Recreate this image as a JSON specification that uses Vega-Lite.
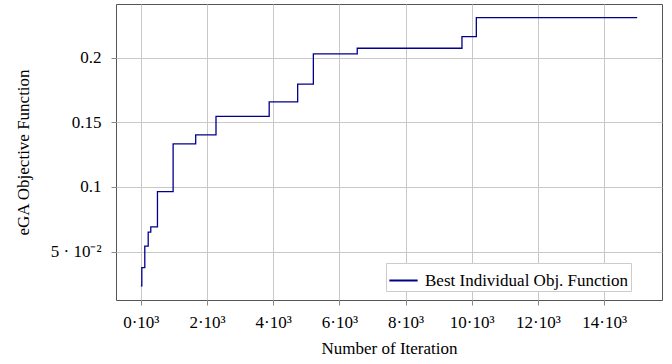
{
  "$schema": "https://vega.github.io/schema/vega-lite/v6.json",
  "width": 546,
  "height": 296,
  "autosize": {"type": "none"},
  "padding": {"left": 116, "top": 4, "right": 10, "bottom": 64},
  "background": "white",
  "config": {
    "font": "Liberation Serif",
    "view": {"stroke": "#555555", "strokeWidth": 1},
    "axis": {
      "labelFont": "Liberation Serif",
      "titleFont": "Liberation Serif",
      "labelFontSize": 17,
      "titleFontSize": 17,
      "titleFontWeight": "normal",
      "labelColor": "#000000",
      "titleColor": "#000000",
      "gridColor": "#c8c8c8",
      "gridWidth": 1,
      "tickColor": "#888888",
      "tickSize": 5,
      "domain": false
    }
  },
  "data": {
    "values": [
      {"iter": 0, "value": 0.0235, "series": "Best Individual Obj. Function"},
      {"iter": 30, "value": 0.0377, "series": "Best Individual Obj. Function"},
      {"iter": 120, "value": 0.0543, "series": "Best Individual Obj. Function"},
      {"iter": 223, "value": 0.0651, "series": "Best Individual Obj. Function"},
      {"iter": 301, "value": 0.0692, "series": "Best Individual Obj. Function"},
      {"iter": 503, "value": 0.0964, "series": "Best Individual Obj. Function"},
      {"iter": 976, "value": 0.1333, "series": "Best Individual Obj. Function"},
      {"iter": 1658, "value": 0.1402, "series": "Best Individual Obj. Function"},
      {"iter": 2272, "value": 0.1546, "series": "Best Individual Obj. Function"},
      {"iter": 3879, "value": 0.1658, "series": "Best Individual Obj. Function"},
      {"iter": 4740, "value": 0.1795, "series": "Best Individual Obj. Function"},
      {"iter": 5214, "value": 0.2028, "series": "Best Individual Obj. Function"},
      {"iter": 6540, "value": 0.2072, "series": "Best Individual Obj. Function"},
      {"iter": 9705, "value": 0.2162, "series": "Best Individual Obj. Function"},
      {"iter": 10139, "value": 0.2308, "series": "Best Individual Obj. Function"},
      {"iter": 15000, "value": 0.2308, "series": "Best Individual Obj. Function"}
    ]
  },
  "mark": {"type": "line", "interpolate": "step-after", "strokeWidth": 1.3, "clip": true},
  "encoding": {
    "x": {
      "field": "iter",
      "type": "quantitative",
      "scale": {"domain": [-750, 15750], "nice": false, "zero": false},
      "axis": {
        "title": "Number of Iteration",
        "values": [0, 2000, 4000, 6000, 8000, 10000, 12000, 14000],
        "labelExpr": "(datum.value / 1000) + '·10³'",
        "labelPadding": 9,
        "titlePadding": 10
      }
    },
    "y": {
      "field": "value",
      "type": "quantitative",
      "scale": {"domain": [0.0126, 0.2414], "nice": false, "zero": false},
      "axis": {
        "title": "eGA Objective Function",
        "values": [0.05, 0.1, 0.15, 0.2],
        "format": "~g",
        "labelExpr": "datum.value == 0.05 ? '5 · 10⁻²' : datum.label",
        "labelPadding": 10,
        "titlePadding": 18
      }
    },
    "color": {
      "field": "series",
      "type": "nominal",
      "scale": {"range": ["#00008b"]},
      "legend": {
        "title": null,
        "orient": "none",
        "legendX": 270,
        "legendY": 259,
        "symbolType": "stroke",
        "symbolStrokeWidth": 2,
        "symbolSize": 800,
        "labelFont": "Liberation Serif",
        "labelFontSize": 17,
        "labelLimit": 0,
        "labelColor": "#000000",
        "fillColor": "white",
        "strokeColor": "#cccccc",
        "padding": 2,
        "labelOffset": 6
      }
    }
  }
}
